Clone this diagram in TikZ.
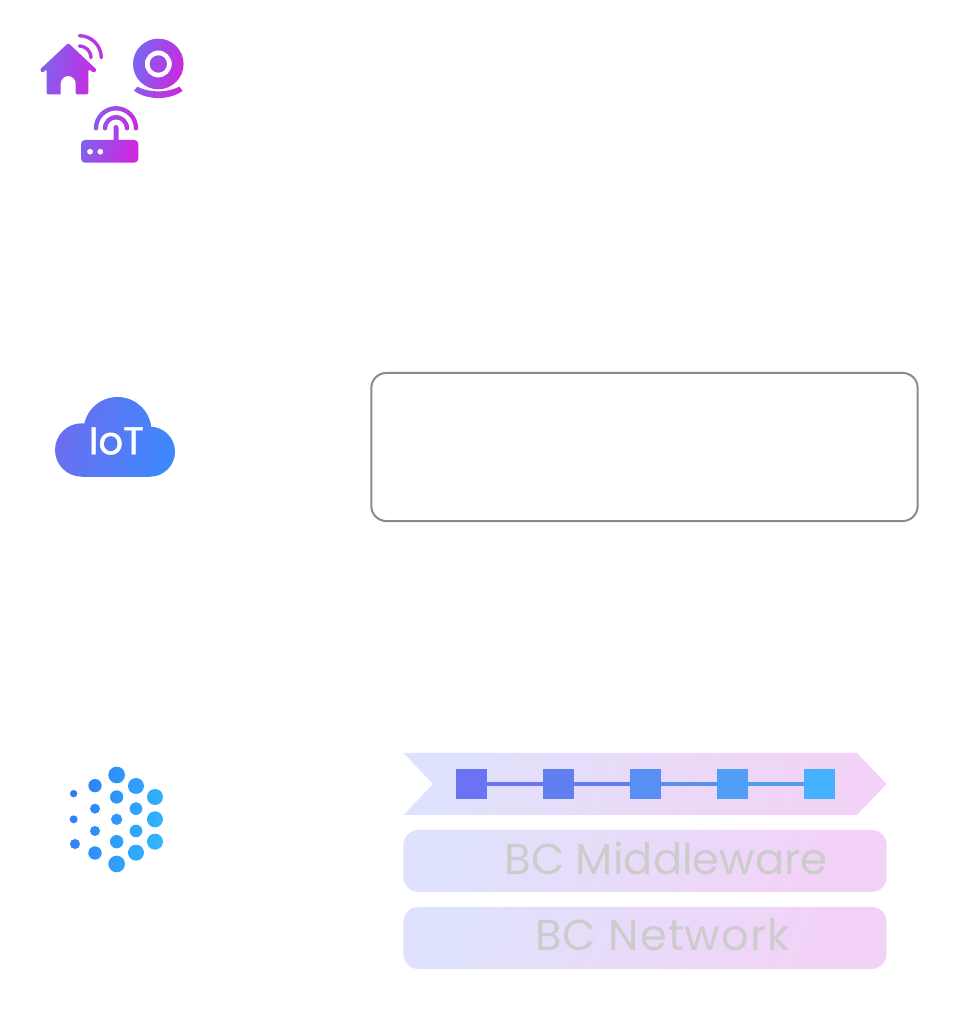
\documentclass[tikz,border=0pt]{standalone}
\usepackage{fontspec}
\setmainfont{Poppins}
\definecolor{iconA}{HTML}{7A66F0}
\definecolor{iconB}{HTML}{CF26DF}
\definecolor{cloudA}{HTML}{6B6EF0}
\definecolor{cloudB}{HTML}{3E87FC}
\definecolor{dotA}{HTML}{2F7DF5}
\definecolor{dotB}{HTML}{30B6FF}
\definecolor{barA}{HTML}{DFE2FC}
\definecolor{barB}{HTML}{F3D2F7}
\definecolor{blockA}{HTML}{6A73F2}
\definecolor{blockB}{HTML}{5F7FF1}
\definecolor{blockC}{HTML}{588FF4}
\definecolor{blockD}{HTML}{4F9FF7}
\definecolor{blockE}{HTML}{46B2FE}
\definecolor{boxline}{HTML}{8A8A8A}
\definecolor{bartext}{HTML}{CCCCCC}
\tikzset{
	icongrad/.style={left color=iconA, right color=iconB, shading angle=75, even odd rule},
	cloudgrad/.style={left color=cloudA, right color=cloudB, shading angle=75},
	dotgrad/.style={left color=dotA, right color=dotB, shading angle=75},
	bargrad/.style={left color=barA, right color=barB, shading angle=65},
	barbox/.style={shape=rectangle, rounded corners=0.15cm, minimum width=4.83cm, minimum height=0.62cm, inner sep=0pt, bargrad},
	bartitle/.style={text=bartext, font=\fontsize{12.3}{14}\selectfont},
	block/.style={shape=rectangle, minimum size=0.3cm, inner sep=0pt}
}
% wave: centre, first angle, last angle, mid radius, half width
\newcommand{\wavepath}[5]{
	(#1) ++(#2:#4+#5) arc[start angle=#2, end angle=#3, radius=#4+#5]
	arc[start angle=#3, end angle=#3+180, radius=#5]
	arc[start angle=#3, end angle=#2, radius=#4-#5]
	arc[start angle=#2+180, end angle=#2+360, radius=#5] -- cycle
}
\begin{document}
\begin{tikzpicture}[x=0.01cm, y=0.01cm]
	\useasboundingbox (0,0) rectangle (958,1036);
	% house
	\shade[icongrad]
		[rounded corners=0.015cm] (39.5,966) -- (68.3,993) -- (97,966) -- (94,963) -- (88.3,967)
		-- (88.3,941.5) -- (75.7,941.5) [rounded corners=0] -- (75.7,952.5)
		arc[start angle=0, end angle=180, radius=7.5] -- (60.7,941.5)
		[rounded corners=0.015cm] -- (46.7,941.5) -- (46.7,967) -- (42.5,963) -- cycle
		[rounded corners=0]
		\wavepath{79.3,978.3}{0}{90}{11.7}{1.7}
		\wavepath{79.3,978.3}{0}{90}{22}{1.7};
	% camera
	\shade[icongrad]
		(158.3,972) circle[radius=25.3]
		(158.3,972) circle[radius=13.5]
		(158.3,972) circle[radius=8.7]
		(134,945.3) -- (137.3,949.3) .. controls (150,943) and (167,943) .. (179.3,949.3)
		-- (182.7,945.3) .. controls (170,935.5) and (147,935.5) .. cycle;
	% router
	\shade[icongrad]
		[rounded corners=0.04cm] (81,896) rectangle (138.3,873.3)
		[rounded corners=0]
		(90,884.3) circle[radius=3]
		(100.3,884.3) circle[radius=3]
		(113.5,896) -- (113.5,908.5) arc[start angle=180, end angle=0, radius=2.5] -- (118.5,896) -- cycle
		\wavepath{116,907.7}{0}{180}{11}{2.2}
		\wavepath{116,907.7}{0}{180}{20}{2.2};
	% cloud
	\shade[cloudgrad]
		(81.7,586) circle[radius=26.7]
		(117.5,605) circle[radius=34]
		(150,584.3) circle[radius=25]
		(81.7,600) rectangle (150,559);
	\node[text=white, font=\fontsize{11}{13}\selectfont\addfontfeature{FakeBold=1}] (iot) at (116.5,595) {IoT};
	% dots
	\shade[dotgrad]
		\foreach \x/\y/\r in {56/116/11, 56/193/12, 60/267/15,
			120/92/20, 120/161/15, 120/228/15, 120/294/20,
			185/60/25, 185/126/20, 185/193/17, 185/260/20, 185/327/25,
			243/93/24, 243/161/19, 243/228/19, 243/293/24,
			300/126/24, 300/193/24, 300/260/24}
		{ ({\x/3+55},{281-\y/3}) circle[radius=\r/3] };
	% empty box
	\node[draw=boxline, line width=0.02cm, rounded corners=0.15cm, minimum width=5.46cm, minimum height=1.48cm] (box) at (644.5,589) {};
	% bars
	\shade[bargrad] (403.5,283) -- (857,283) -- (886.5,252) -- (857,221) -- (403.5,221) -- (433,252) -- cycle;
	\node[barbox] (middleware) at (645,175) {};
	\node[barbox] (network) at (645,98) {};
	\node[bartitle] (middlewaretext) at (666,178) {BC Middleware};
	\node[bartitle] (networktext) at (662.5,101) {\addfontfeature{LetterSpace=2.3}BC Network};
	% chain
	\node[block, fill=blockA] (n1) at (471.5,252) {};
	\node[block, fill=blockB] (n2) at (558.5,252) {};
	\node[block, fill=blockC] (n3) at (645.5,252) {};
	\node[block, fill=blockD] (n4) at (732.5,252) {};
	\node[block, fill=blockE] (n5) at (819.5,252) {};
	\draw[blockA, line width=0.045cm] (n1) -- (n2);
	\draw[blockB, line width=0.045cm] (n2) -- (n3);
	\draw[blockC, line width=0.045cm] (n3) -- (n4);
	\draw[blockD, line width=0.045cm] (n4) -- (n5);
\end{tikzpicture}
\end{document}
